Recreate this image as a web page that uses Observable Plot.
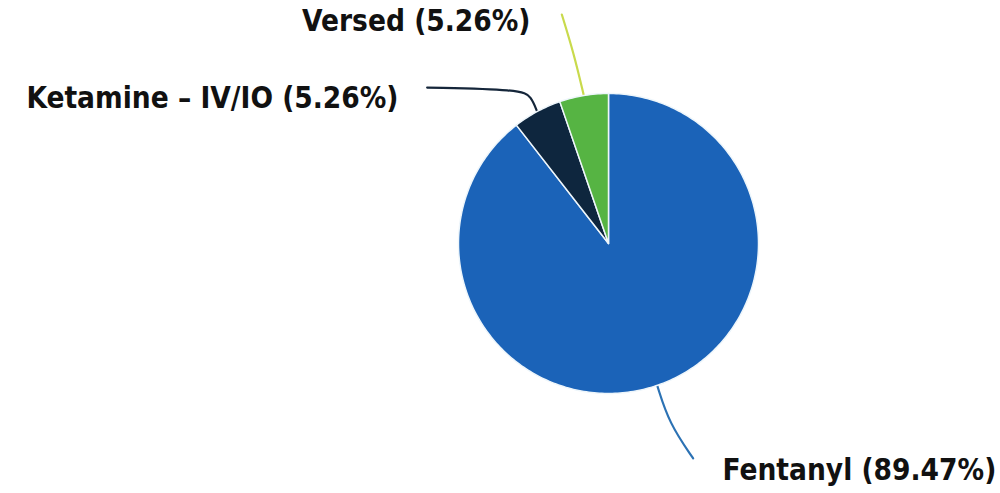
<!DOCTYPE html>
<html>
<head>
<meta charset="utf-8">
<script src="https://cdn.jsdelivr.net/npm/d3@7"></script>
<script src="https://cdn.jsdelivr.net/npm/@observablehq/plot@0.6"></script>
<style>
  html, body { margin: 0; padding: 0; background: #ffffff; }
  #chart svg { display: block; }
</style>
</head>
<body>
<div id="chart"></div>
<script>
// ---- data ----
const drugs = ["Fentanyl", "Ketamine – IV/IO", "Versed"];
const shares = [89.47, 5.26, 5.26];
const shareLabels = ["89.47%", "5.26%", "5.26%"];

// ---- styles / layout (kept separate from data) ----
const sliceColors = ["#1b63b8", "#0e263e", "#56b443"];
const leaderColors = ["#2c72b4", "#15263a", "#c9da4c"];
const W = 1000, H = 493;
const cx = 608, cy = 243, R = 150;            // pie centre & radius in pixels
// leader path offsets (pixels, relative to the slice's mid-angle point on the rim), and label anchor
const leaderLayout = [
  { path: [[0, 0], [12, 38], [36, 73]], text: [722, 470], anchor: "start" },
  { path: [[0, 0], [-6, -15], [-16, -22], [-110, -24]], text: [398, 98], anchor: "end" },
  { path: [[0, 0], [-10, -42], [-22, -81]], text: [530, 21], anchor: "end" }
];

// ---- derived geometry (unit-circle data space, clockwise from 12 o'clock) ----
const total = d3.sum(shares);
let acc = 0;
const slices = drugs.map((name, i) => {
  const a0 = acc / total * 360;
  acc += shares[i];
  const a1 = acc / total * 360;
  return { name, a0, a1, mid: (a0 + a1) / 2, i };
});
const rad = d => d * Math.PI / 180;
const slicePts = [];
slices.forEach(s => {
  slicePts.push({ name: s.name, x: 0, y: 0 });
  const n = Math.max(2, Math.ceil(s.a1 - s.a0));
  for (let k = 0; k <= n; k++) {
    const a = s.a0 + (s.a1 - s.a0) * k / n;
    slicePts.push({ name: s.name, x: Math.sin(rad(a)), y: Math.cos(rad(a)) });
  }
});
const leaderPts = [];
const labelPts = [];
slices.forEach(s => {
  const L = leaderLayout[s.i];
  const sx = Math.sin(rad(s.mid)), sy = Math.cos(rad(s.mid));
  L.path.forEach(([dx, dy]) => leaderPts.push({ name: s.name, x: sx + dx / R, y: sy - dy / R }));
  labelPts.push({
    name: s.name,
    text: `${s.name} (${shareLabels[s.i]})`,
    x: (L.text[0] - cx) / R,
    y: (cy - L.text[1]) / R,
    anchor: L.anchor
  });
});

const font = "'DejaVu Sans Condensed', 'DejaVu Sans', sans-serif";
const chart = Plot.plot({
  width: W,
  height: H,
  margin: 0,
  style: { background: "#ffffff" },
  x: { domain: [-cx / R, (W - cx) / R], axis: null },
  y: { domain: [(cy - H) / R, cy / R], axis: null },
  color: { domain: drugs, range: sliceColors },
  marks: [
    Plot.line(leaderPts, {
      x: "x", y: "y", z: "name",
      stroke: d => leaderColors[drugs.indexOf(d.name)],
      strokeWidth: 2.2, curve: "basis"
    }),
    Plot.line(slicePts, {
      x: "x", y: "y", z: "name",
      fill: "name", stroke: "#eef6fb", strokeWidth: 1.5,
      curve: "linear-closed", strokeLinejoin: "round"
    }),
    Plot.text(labelPts.filter(d => d.anchor === "start"), {
      x: "x", y: "y", text: "text", textAnchor: "start",
      fontSize: 29.5, fontWeight: "bold", fill: "#111111", fontFamily: font
    }),
    Plot.text(labelPts.filter(d => d.anchor === "end"), {
      x: "x", y: "y", text: "text", textAnchor: "end",
      fontSize: 29.5, fontWeight: "bold", fill: "#111111", fontFamily: font
    })
  ]
});
document.getElementById("chart").appendChild(chart);
</script>
</body>
</html>
